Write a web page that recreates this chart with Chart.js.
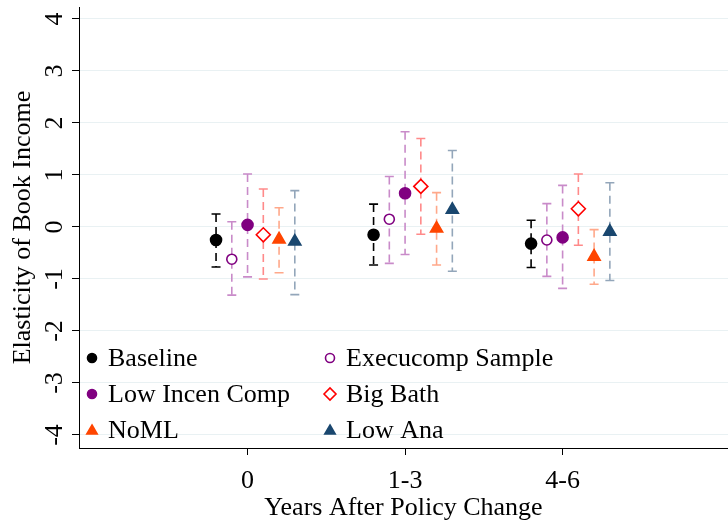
<!DOCTYPE html>
<html>
<head>
<meta charset="utf-8">
<script src="https://cdn.jsdelivr.net/npm/chart.js@4.4.1/dist/chart.umd.min.js"></script>
<style>
  html, body { margin: 0; background: #fff; }
  canvas { display: block; }
</style>
</head>
<body>
<canvas id="chart" width="728" height="521"></canvas>
<script>
// periods after the policy change (x categories)
const periods = ['0', '1-3', '4-6'];

// point estimates and 95% CI bounds, one set per sample
const baselineEst = [-0.25, -0.15, -0.32];
const baselineLo  = [-0.77, -0.73, -0.78];
const baselineHi  = [ 0.25,  0.44,  0.13];

const execucompEst = [-0.62,  0.15, -0.25];
const execucompLo  = [-1.31, -0.70, -0.95];
const execucompHi  = [ 0.10,  0.97,  0.45];

const lowIncenEst = [ 0.04,  0.65, -0.20];
const lowIncenLo  = [-0.96, -0.53, -1.18];
const lowIncenHi  = [ 1.02,  1.83,  0.80];

const bigBathEst = [-0.15,  0.78,  0.35];
const bigBathLo  = [-1.00, -0.14, -0.35];
const bigBathHi  = [ 0.73,  1.70,  1.02];

const nomlEst = [-0.24, -0.03, -0.57];
const nomlLo  = [-0.88, -0.73, -1.10];
const nomlHi  = [ 0.37,  0.66, -0.05];

const lowAnaEst = [-0.28,  0.33, -0.09];
const lowAnaLo  = [-1.30, -0.85, -1.03];
const lowAnaHi  = [ 0.70,  1.47,  0.85];

const yTicks = [-4, -3, -2, -1, 0, 1, 2, 3, 4];

const serif = "'Liberation Serif', 'Times New Roman', serif";

// horizontal dodge of each series inside a period group
const dodge = [-0.2, -0.1, 0, 0.1, 0.2, 0.3];

const series = [
  { label: 'Baseline',         est: baselineEst,  lo: baselineLo,  hi: baselineHi,
    style: 'circle',  radius: 5.5, fill: '#000000', edge: '#000000', ci: '#000000' },
  { label: 'Execucomp Sample', est: execucompEst, lo: execucompLo, hi: execucompHi,
    style: 'circle',  radius: 5,   fill: '#ffffff', edge: '#800080', ci: '#c98bc9' },
  { label: 'Low Incen Comp',   est: lowIncenEst,  lo: lowIncenLo,  hi: lowIncenHi,
    style: 'circle',  radius: 5.5, fill: '#800080', edge: '#800080', ci: '#c98bc9' },
  { label: 'Big Bath',         est: bigBathEst,   lo: bigBathLo,   hi: bigBathHi,
    style: 'rectRot', radius: 7,   fill: '#ffffff', edge: '#ff0000', ci: '#ff8a8a' },
  { label: 'NoML',             est: nomlEst,      lo: nomlLo,      hi: nomlHi,
    style: 'triangle', radius: 7,  fill: '#ff4500', edge: '#ff4500', ci: '#ffa88a' },
  { label: 'Low Ana',          est: lowAnaEst,    lo: lowAnaLo,    hi: lowAnaHi,
    style: 'triangle', radius: 7,  fill: '#1a476f', edge: '#1a476f', ci: '#93a6ba' }
];

const datasets = series.map((s, i) => ({
  label: s.label,
  data: s.est.map((v, k) => ({ x: k + dodge[i], y: v })),
  ciLo: s.lo,
  ciHi: s.hi,
  ciColor: s.ci,
  pointStyle: s.style,
  pointRadius: s.radius,
  pointBackgroundColor: s.fill,
  pointBorderColor: s.edge,
  pointBorderWidth: 1.6,
  showLine: false
}));

// dashed confidence intervals with caps, drawn under the markers
const errorBars = {
  id: 'errorBars',
  beforeDatasetsDraw(chart) {
    const ctx = chart.ctx;
    const yScale = chart.scales.y;
    chart.data.datasets.forEach((ds, i) => {
      const meta = chart.getDatasetMeta(i);
      meta.data.forEach((pt, k) => {
        const x = pt.x;
        const yLo = yScale.getPixelForValue(ds.ciLo[k]);
        const yHi = yScale.getPixelForValue(ds.ciHi[k]);
        ctx.save();
        ctx.strokeStyle = ds.ciColor;
        ctx.lineWidth = 1.6;
        ctx.setLineDash([8, 5]);
        ctx.beginPath();
        ctx.moveTo(x, yHi);
        ctx.lineTo(x, yLo);
        ctx.stroke();
        ctx.setLineDash([]);
        ctx.beginPath();
        ctx.moveTo(x - 4.5, yHi); ctx.lineTo(x + 4.5, yHi);
        ctx.moveTo(x - 4.5, yLo); ctx.lineTo(x + 4.5, yLo);
        ctx.stroke();
        ctx.restore();
      });
    });
  }
};

// two-column key inside the lower-left of the plot
const keyBox = {
  id: 'keyBox',
  afterDraw(chart) {
    const ctx = chart.ctx;
    const area = chart.chartArea;
    const colX = [area.left + 13, area.left + 251];
    const rowY = [358, 394, 430];
    ctx.save();
    ctx.font = '26px ' + serif;
    ctx.textBaseline = 'middle';
    series.forEach((s, i) => {
      const x = colX[i % 2];
      const y = rowY[Math.floor(i / 2)];
      ctx.fillStyle = s.fill;
      ctx.strokeStyle = s.edge;
      ctx.lineWidth = 1.6;
      Chart.helpers.drawPoint(ctx, {
        pointStyle: s.style,
        radius: s.style === 'circle' ? 4.5 : 6,
        rotation: 0,
        borderWidth: 1.6
      }, x, y + (s.style === 'triangle' ? 1 : 0));
      ctx.fillStyle = '#000';
      ctx.textAlign = 'left';
      ctx.fillText(s.label, x + 16, y + 1);
    });
    ctx.restore();
  }
};

new Chart(document.getElementById('chart'), {
  type: 'scatter',
  data: { datasets },
  plugins: [errorBars, keyBox],
  options: {
    responsive: false,
    animation: false,
    layout: { autoPadding: false, padding: { top: 7, right: 0, left: 0, bottom: 0 } },
    plugins: {
      legend: { display: false },
      tooltip: { enabled: false }
    },
    scales: {
      x: {
        type: 'linear',
        min: -1.07,
        max: 3.05,
        afterBuildTicks(scale) { scale.ticks = periods.map((p, k) => ({ value: k })); },
        afterFit(scale) {
          scale.height = 73;
          scale.paddingLeft = 0;
          scale.paddingRight = 0;
        },
        grid: { drawOnChartArea: false, drawTicks: true, tickLength: 7, tickColor: '#000', tickWidth: 1 },
        border: { color: '#000', width: 1 },
        ticks: {
          color: '#000',
          font: { family: serif, size: 26 },
          padding: 11,
          maxRotation: 0,
          callback: (v) => periods[Math.round(v)]
        },
        title: {
          display: true,
          text: 'Years After Policy Change',
          color: '#000',
          font: { family: serif, size: 26 },
          padding: { top: 0, bottom: -3 }
        }
      },
      y: {
        min: -4.25,
        max: 4.23,
        afterBuildTicks(scale) { scale.ticks = yTicks.map(v => ({ value: v })); },
        afterFit(scale) {
          scale.width = 79;
          scale.paddingTop = 0;
          scale.paddingBottom = 0;
        },
        grid: { color: '#e9f1f3', lineWidth: 1, drawTicks: true, tickLength: 7, tickColor: '#000', tickWidth: 1 },
        border: { color: '#000', width: 1 },
        ticks: {
          color: '#000',
          font: { family: serif, size: 26 },
          padding: 6,
          minRotation: 90,
          maxRotation: 90,
          crossAlign: 'center'
        },
        title: {
          display: true,
          text: 'Elasticity of Book Income',
          color: '#000',
          font: { family: serif, size: 26 },
          padding: { top: 8, bottom: 0 }
        }
      }
    }
  }
});
</script>
</body>
</html>
